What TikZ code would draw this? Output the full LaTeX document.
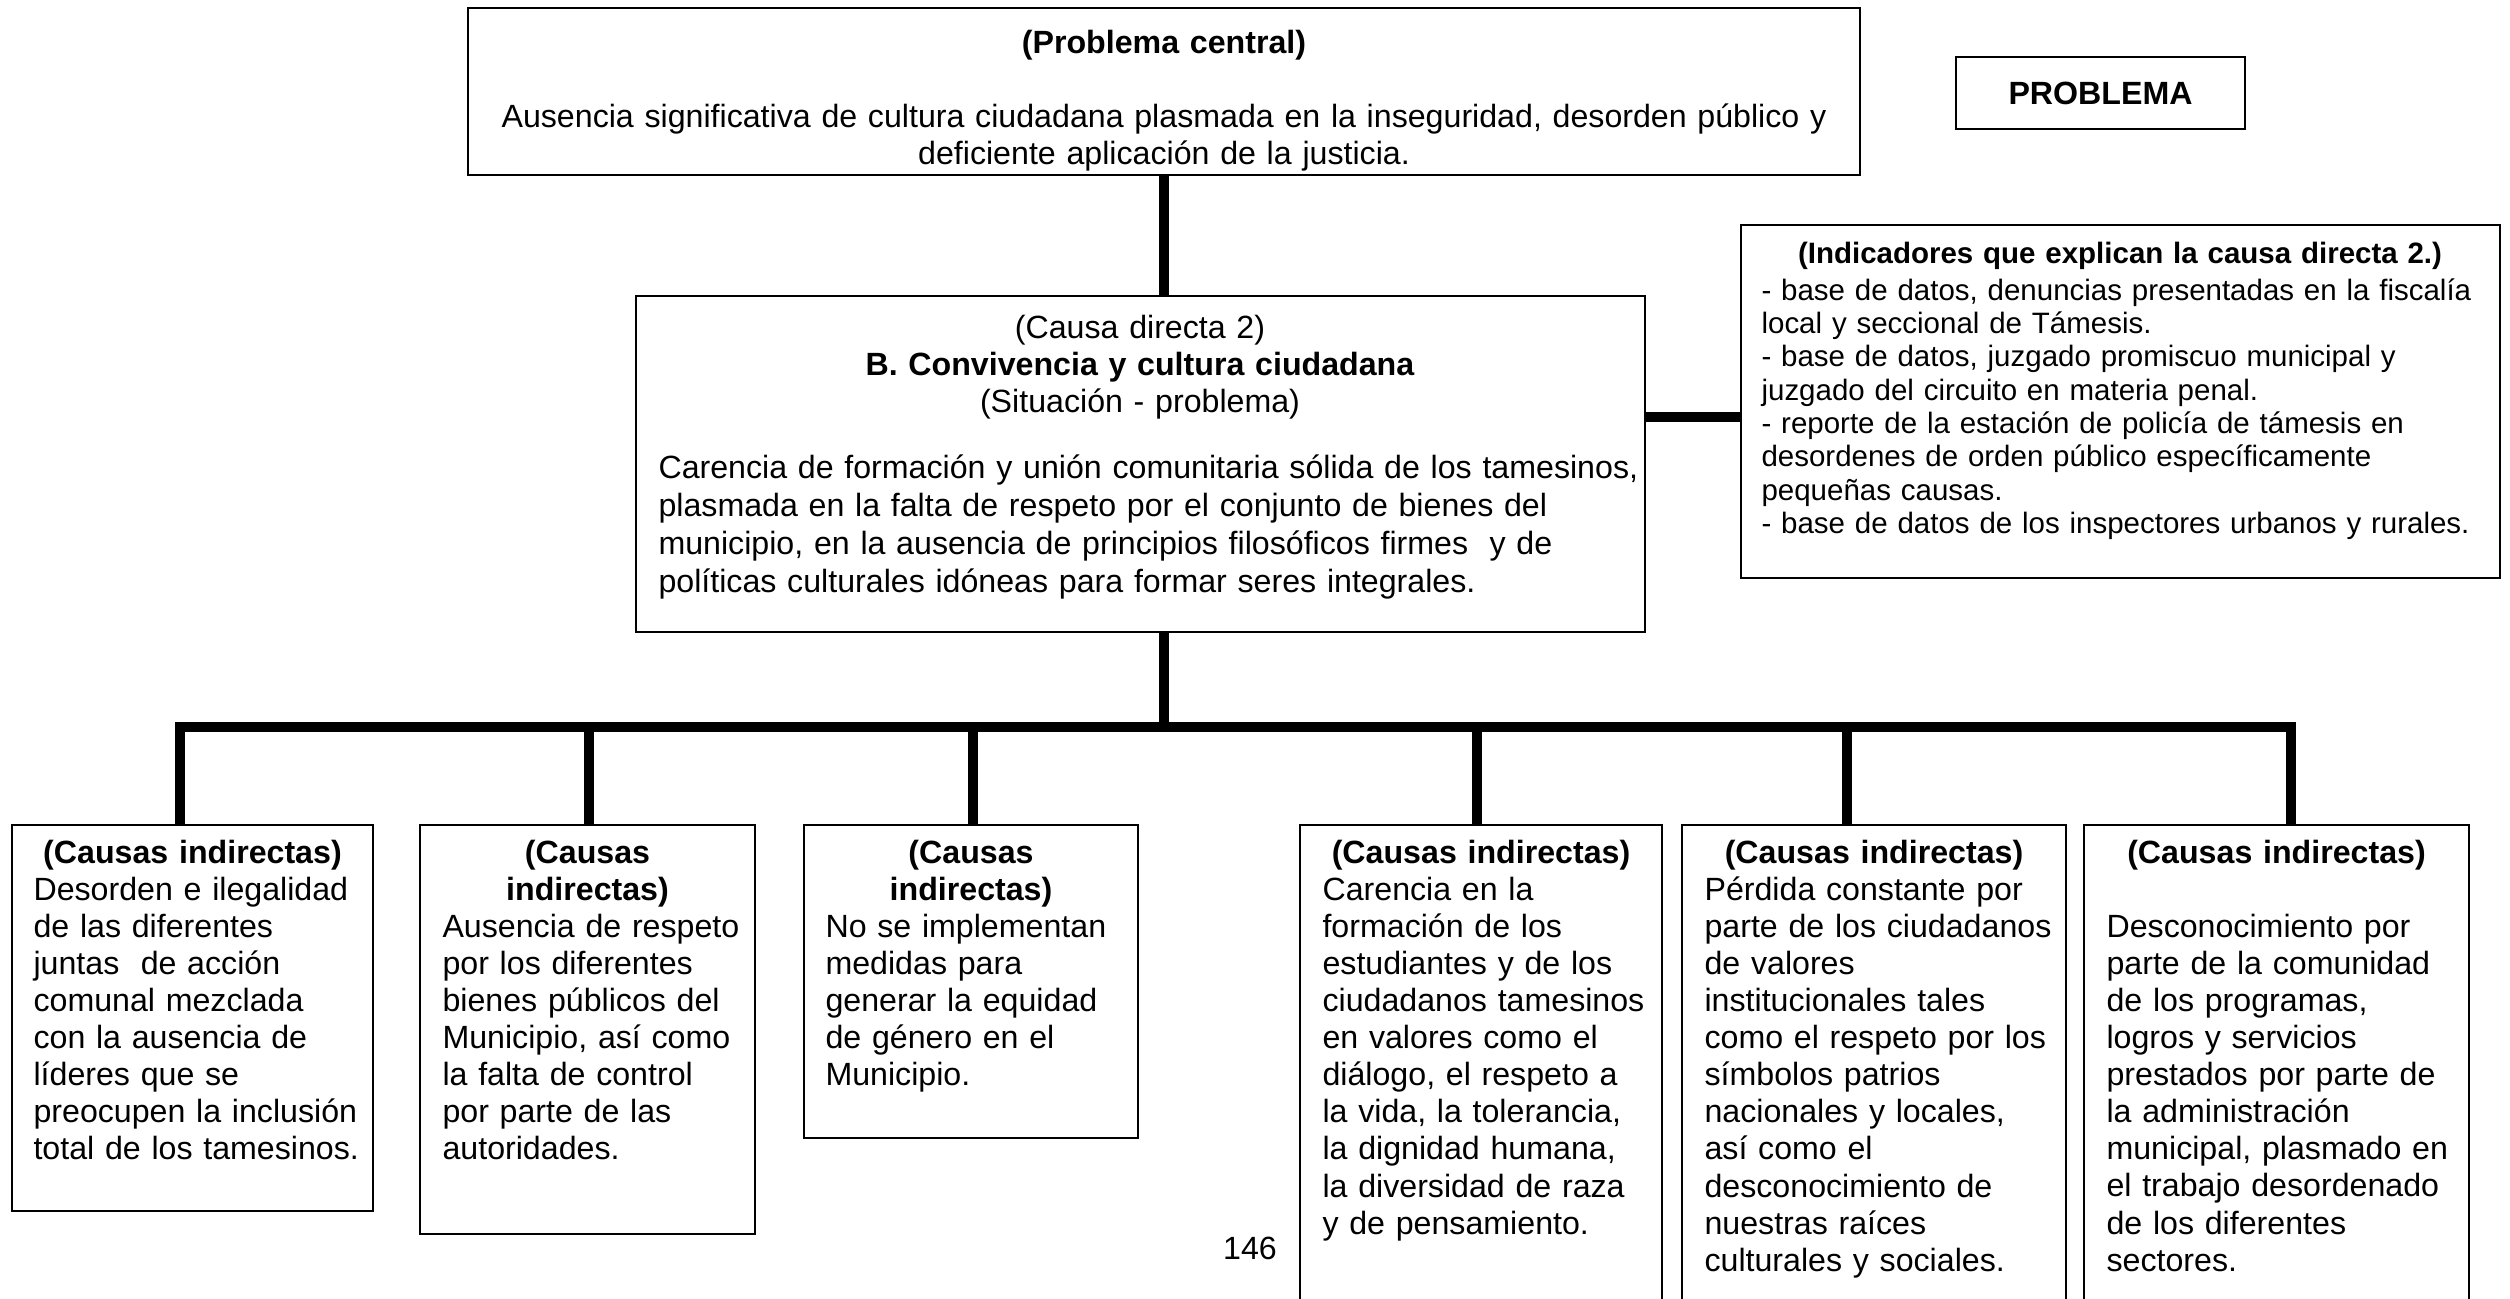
\documentclass[tikz,border=0pt]{standalone}
\usepackage{fontspec}
\setmainfont{Liberation Sans}
\usetikzlibrary{fit}
\newcommand\twelve{\fontsize{12pt}{13.85pt}\selectfont}
\newcommand\eleven{\fontsize{11pt}{12.45pt}\selectfont}
\begin{document}
\begin{tikzpicture}[x=0.3731pt,y=-0.3731pt,
  box/.style={draw, line width=0.8pt, inner sep=0pt},
  link/.style={line width=3.7pt},
  tl/.style={inner sep=0pt, font=\twelve, align=left, anchor=base west},
  tc/.style={inner sep=0pt, font=\twelve\bfseries, align=center, anchor=base},
]
\useasboundingbox (0,0) rectangle (2510,1298);
\clip (0,0) rectangle (2510,1298);

% ---- top: problema central
\node[box, fit={(468,8) (1860,175)}] (top) {};
\node[tc, font=\twelve, text width=512pt] (toptxt) at (1164,53)
  {\textbf{(Problema central)}\\[13.85pt]Ausencia significativa de cultura ciudadana plasmada en la inseguridad, desorden público y\\deficiente aplicación de la justicia.};

\node[box, fit={(1956,57) (2245,129)}] (prob) {};
\node[inner sep=0pt, font=\twelve\bfseries] (probtxt) at (prob.center) {PROBLEMA};

% ---- middle: causa directa
\node[box, fit={(636,296) (1645,632)}] (mid) {};
\node[tc, font=\twelve, text width=340pt] (midhead) at (1140,338)
  {(Causa directa 2)\\\textbf{B. Convivencia y cultura ciudadana}\\(Situación - problema)};
\node[tl, text width=400pt, font=\fontsize{12pt}{14.2pt}\selectfont] (midbody) at (658,478)
  {Carencia de formación y unión comunitaria sólida de los tamesinos,\\
   plasmada en la falta de respeto por el conjunto de bienes del\\
   municipio, en la ausencia de principios filosóficos firmes\ \ y de\\
   políticas culturales idóneas para formar seres integrales.};

% ---- indicators
\node[box, fit={(1741,225) (2500,578)}] (ind) {};
\node[tc, font=\eleven\bfseries, text width=275pt] (indtitle) at (2120,263)
  {(Indicadores que explican la causa directa 2.)};
\node[tl, font=\eleven, text width=272pt] (indbody) at (1761,300)
  {- base de datos, denuncias presentadas en la fiscalía\\
   local y seccional de Támesis.\\
   - base de datos, juzgado promiscuo municipal y\\
   juzgado del circuito en materia penal.\\
   - reporte de la estación de policía de támesis en\\
   desordenes de orden público específicamente\\
   pequeñas causas.\\
   - base de datos de los inspectores urbanos y rurales.};

% ---- bottom boxes
\node[box, fit={(12,825) (373,1211)}] (b1) {};
\node[box, fit={(420,825) (755,1234)}] (b2) {};
\node[box, fit={(804,825) (1138,1138)}] (b3) {};
\node[box, fit={(1300,825) (1662,1320)}] (b4) {};
\node[box, fit={(1682,825) (2066,1320)}] (b5) {};
\node[box, fit={(2084,825) (2469,1320)}] (b6) {};

\node[tc, text width=130pt] (t1) at (b1.center |- 0,863) {(Causas indirectas)};
\node[tc, text width=120pt] (t2) at (b2.center |- 0,863) {(Causas\\indirectas)};
\node[tc, text width=120pt] (t3) at (b3.center |- 0,863) {(Causas\\indirectas)};
\node[tc, text width=130pt] (t4) at (b4.center |- 0,863) {(Causas indirectas)};
\node[tc, text width=140pt] (t5) at (b5.center |- 0,863) {(Causas indirectas)};
\node[tc, text width=140pt] (t6) at (b6.center |- 0,863) {(Causas indirectas)};

\node[tl, text width=130pt] (x1) at (33,900)
  {Desorden e ilegalidad\\de las diferentes\\juntas\ \ de acción\\comunal mezclada\\con la ausencia de\\líderes que se\\preocupen la inclusión\\total de los tamesinos.};
\node[tl, text width=120pt] (x2) at (442,937)
  {Ausencia de respeto\\por los diferentes\\bienes públicos del\\Municipio, así como\\la falta de control\\por parte de las\\autoridades.};
\node[tl, text width=120pt] (x3) at (825,937)
  {No se implementan\\medidas para\\generar la equidad\\de género en el\\Municipio.};
\node[tl, text width=130pt] (x4) at (1322,900)
  {Carencia en la\\formación de los\\estudiantes y de los\\ciudadanos tamesinos\\en valores como el\\diálogo, el respeto a\\la vida, la tolerancia,\\la dignidad humana,\\la diversidad de raza\\y de pensamiento.};
\node[tl, text width=138pt] (x5) at (1704,900)
  {Pérdida constante por\\parte de los ciudadanos\\de valores\\institucionales tales\\como el respeto por los\\símbolos patrios\\nacionales y locales,\\así como el\\desconocimiento de\\nuestras raíces\\culturales y sociales.};
\node[tl, text width=138pt] (x6) at (2106,937)
  {Desconocimiento por\\parte de la comunidad\\de los programas,\\logros y servicios\\prestados por parte de\\la administración\\municipal, plasmado en\\el trabajo desordenado\\de los diferentes\\sectores.};

\node[inner sep=0pt, font=\twelve] (pg) at (1250,1248) {146};

% ---- connectors
\coordinate (cr) at (0,417);
\coordinate (j1) at (180,727);
\coordinate (j2) at (589,727);
\coordinate (j3) at (973,727);
\coordinate (j4) at (1477,727);
\coordinate (j5) at (1847,727);
\coordinate (j6) at (2291,727);

\draw[link] (top.south) -- (top.south |- mid.north);
\draw[link] (mid.east |- cr) -- (ind.west |- cr);
\draw[link] (top.south |- mid.south) -- (top.south |- j1);
\draw[link, line cap=rect] (j1) -- (j6);
\foreach \i in {1,...,6}{
  \draw[link] (j\i) -- (j\i |- b\i.north);
}
\end{tikzpicture}
\end{document}
